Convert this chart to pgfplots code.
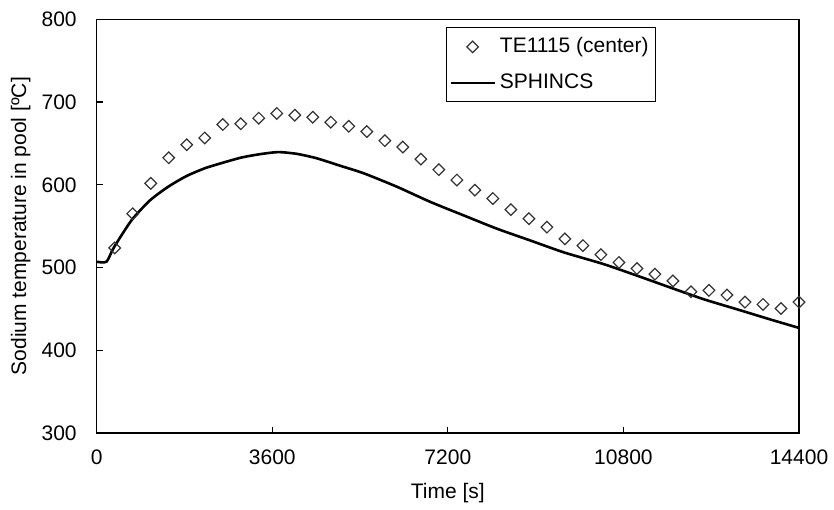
\documentclass[border=0pt]{standalone}
\usepackage{fontspec}
\setmainfont{Liberation Sans}
\usepackage{pgfplots}
\pgfplotsset{compat=1.18}
\pgfplotsset{
  mymarklegend/.style={legend image code/.code={\draw[##1] plot coordinates {(11pt,0pt)};}},
  mylinelegend/.style={legend image code/.code={\draw[##1] (0pt,0pt) -- (22pt,0pt);}},
}
\begin{document}
\begin{tikzpicture}[font=\fontsize{10.5}{12.5}\selectfont]
\begin{axis}[
  at={(0,0)}, anchor=south west,
  scale only axis, width=351.15pt, height=206.85pt,
  xmin=0, xmax=14400, ymin=300, ymax=800,
  xtick={0,3600,7200,10800,14400},
  ytick={300,400,500,600,700,800},
  scaled x ticks=false, scaled y ticks=false,
  tick align=inside, tick pos=left, major tick length=3pt,
  axis line style={line width=0.7pt},
  every tick/.style={black, line width=0.6pt},
  /pgf/number format/assume math mode=true,
  /pgf/number format/set thousands separator={},
  /pgf/number format/fixed,
  xticklabel style={yshift=-5pt},
  yticklabel style={xshift=-6.5pt},
  xlabel={Time [s]},
  ylabel={Sodium temperature in pool [ºC]},
  every axis x label/.style={at={(axis description cs:0.5,0)}, anchor=center, yshift=-30pt},
  every axis y label/.style={at={(axis description cs:0,0.5)}, xshift=-38pt, rotate=90, anchor=center},
  legend style={at={(rel axis cs:0.497,0.981)}, anchor=north west, draw=black, line width=0.6pt,
    inner xsep=1.5pt, inner ysep=3pt, row sep=5pt, column sep=0pt,
    font=\fontsize{10.5}{12.5}\selectfont},
  legend cell align=left,
]
\addplot[only marks, mark=square, mark size=2.05pt, mark options={rotate=45, draw=black!80, line width=0.6pt, fill=white},
  mymarklegend]
coordinates {
(369,523.7)(738,565)(1108,601.7)(1477,632.6)(1846,648.4)(2215,656.6)(2585,672.8)(2954,673.7)
(3323,680.5)(3692,686.2)(4062,684.1)(4431,681.7)(4800,675.6)(5169,670.7)(5538,664.3)(5908,653.3)
(6277,645.6)(6646,631)(7015,618.3)(7385,605.7)(7754,593.5)(8123,583.4)(8492,570)(8862,559)
(9231,548.8)(9600,534.6)(9969,526.5)(10338,515.5)(10708,506.1)(11077,498.8)(11446,492)(11815,483.8)
(12185,470.7)(12554,472.4)(12923,466.7)(13292,458.2)(13662,455.4)(14031,450.5)(14400,458.2)
};
\addlegendentry{TE1115 (center)}
\addplot[black, line width=1.3pt, smooth, tension=0.4, mylinelegend]
coordinates {
(0,507)(200,507)(350,524)(713,557)(1089,581)(1465,597.6)(1843,610.6)(2219,620)(2595,626.8)
(2972,633)(3348,637)(3724,639.5)(4102,637.4)(4513,632)(4992,623)(5470,614)(6157,597.6)
(6841,579.3)(7525,563)(8211,546.8)(8895,532.6)(9579,518.3)(10401,504)(11087,490)(11771,475.6)
(12455,461.5)(13141,449.3)(13825,437)(14400,427)
};
\addlegendentry{SPHINCS}
\end{axis}
\pgfresetboundingbox
\path (-48.35pt,-38pt) rectangle (368.65pt,216.5pt);
\end{tikzpicture}
\end{document}
